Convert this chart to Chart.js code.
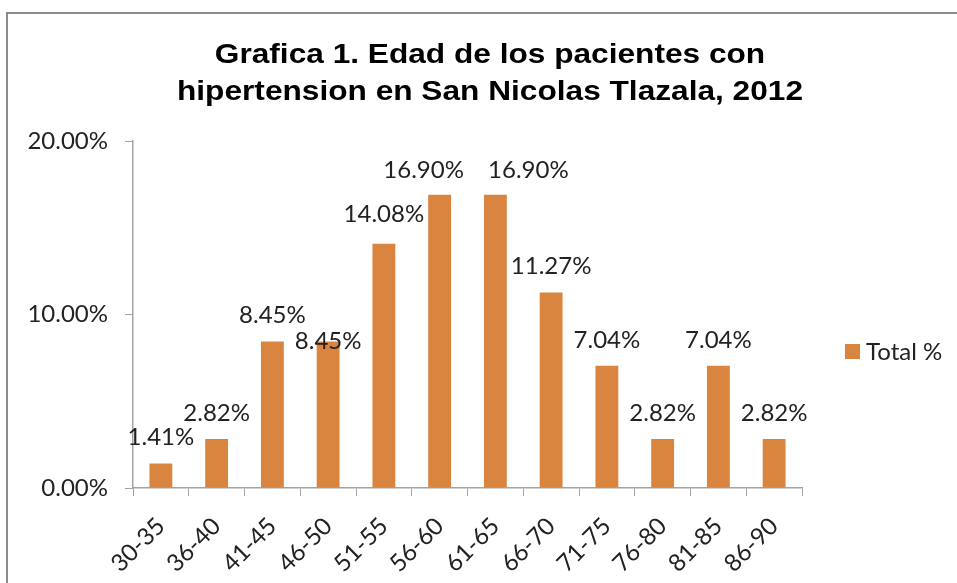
<!DOCTYPE html>
<html>
<head>
<meta charset="utf-8">
<script src="https://cdn.jsdelivr.net/npm/chart.js@4"></script>
<style>
  body { margin: 0; background: #fff; overflow: hidden; }
  #frame { position: absolute; left: 6px; top: 12px; width: 1000px; height: 640px; border: 2px solid #8c8c8c; }
  #chart { position: absolute; left: 0; top: 0; }
</style>
</head>
<body>
<div id="frame"></div>
<canvas id="chart" width="957" height="583"></canvas>
<script>
// Age groups and share of patients (%)
const ageGroups = ["30-35", "36-40", "41-45", "46-50", "51-55", "56-60", "61-65", "66-70", "71-75", "76-80", "81-85", "86-90"];
const percentValues = [1.41, 2.82, 8.45, 8.45, 14.08, 16.90, 16.90, 11.27, 7.04, 2.82, 7.04, 2.82];
const yTicks = [0, 10, 20];
const titleLines = ["Grafica 1. Edad de los pacientes con", "hipertension en San Nicolas Tlazala, 2012"];
const seriesName = "Total %";

const barColor = "#D9843F";
const axisColor = "#a3a3a3";
const textColor = "#222";
const bodyFont = "Lato, 'Open Sans', sans-serif";

// Draws the value labels above each bar, plus the title and legend
const chartText = {
  id: "chartText",
  afterDatasetsDraw(chart, args, opts) {
    const ctx = chart.ctx;
    const meta = chart.getDatasetMeta(0);
    ctx.save();
    ctx.font = "24px " + bodyFont;
    ctx.fillStyle = textColor;
    ctx.textAlign = "center";
    ctx.textBaseline = "middle";
    meta.data.forEach((bar, i) => {
      const lift = opts.lift[i] !== undefined ? opts.lift[i] : 26;
      const shift = opts.shift[i] || 0;
      ctx.fillText(percentValues[i].toFixed(2) + "%", bar.x + shift, bar.y - lift);
    });

    // title (slightly widened to match the original rendering)
    ctx.font = "bold 28px 'Liberation Sans', Arial, sans-serif";
    ctx.fillStyle = "#000";
    ctx.textBaseline = "alphabetic";
    ctx.save();
    ctx.translate(490, 0);
    ctx.scale(1.13, 1);
    ctx.fillText(titleLines[0], 0, 63);
    ctx.fillText(titleLines[1], 0, 100);
    ctx.restore();

    // legend
    ctx.fillStyle = barColor;
    ctx.fillRect(845, 344, 15, 15);
    ctx.font = "24px " + bodyFont;
    ctx.fillStyle = textColor;
    ctx.textAlign = "left";
    ctx.textBaseline = "middle";
    ctx.fillText(seriesName, 866, 352);
    ctx.restore();
  }
};

new Chart(document.getElementById("chart"), {
  type: "bar",
  data: {
    labels: ageGroups,
    datasets: [{
      label: seriesName,
      data: percentValues,
      backgroundColor: barColor,
      barPercentage: 0.82,
      categoryPercentage: 0.5
    }]
  },
  options: {
    responsive: false,
    animation: false,
    layout: { padding: { left: 0, top: 141, right: 155, bottom: 0 } },
    plugins: {
      legend: { display: false },
      title: { display: false },
      tooltip: { enabled: false },
      chartText: { lift: { 3: 0, 4: 29, 5: 25, 6: 25 }, shift: { 5: -16, 6: 33 } }
    },
    scales: {
      x: {
        offset: true,
        grid: { offset: true, drawOnChartArea: false, drawTicks: true, tickLength: 8, color: axisColor },
        border: { display: true, color: axisColor, width: 1.5 },
        ticks: {
          minRotation: 45, maxRotation: 45, padding: 16,
          color: textColor, font: { family: bodyFont, size: 24 }
        },
        afterFit(scale) { scale.height = 95; }
      },
      y: {
        min: 0, max: 20,
        afterBuildTicks(scale) { scale.ticks = yTicks.map(v => ({ value: v })); },
        grid: { drawOnChartArea: false, drawTicks: true, tickLength: 8, color: axisColor },
        border: { display: true, color: axisColor, width: 1.5 },
        ticks: {
          padding: 17, color: textColor, font: { family: bodyFont, size: 24 },
          callback: v => v.toFixed(2) + "%"
        },
        afterFit(scale) { scale.width = 133; }
      }
    }
  },
  plugins: [chartText]
});
</script>
</body>
</html>
